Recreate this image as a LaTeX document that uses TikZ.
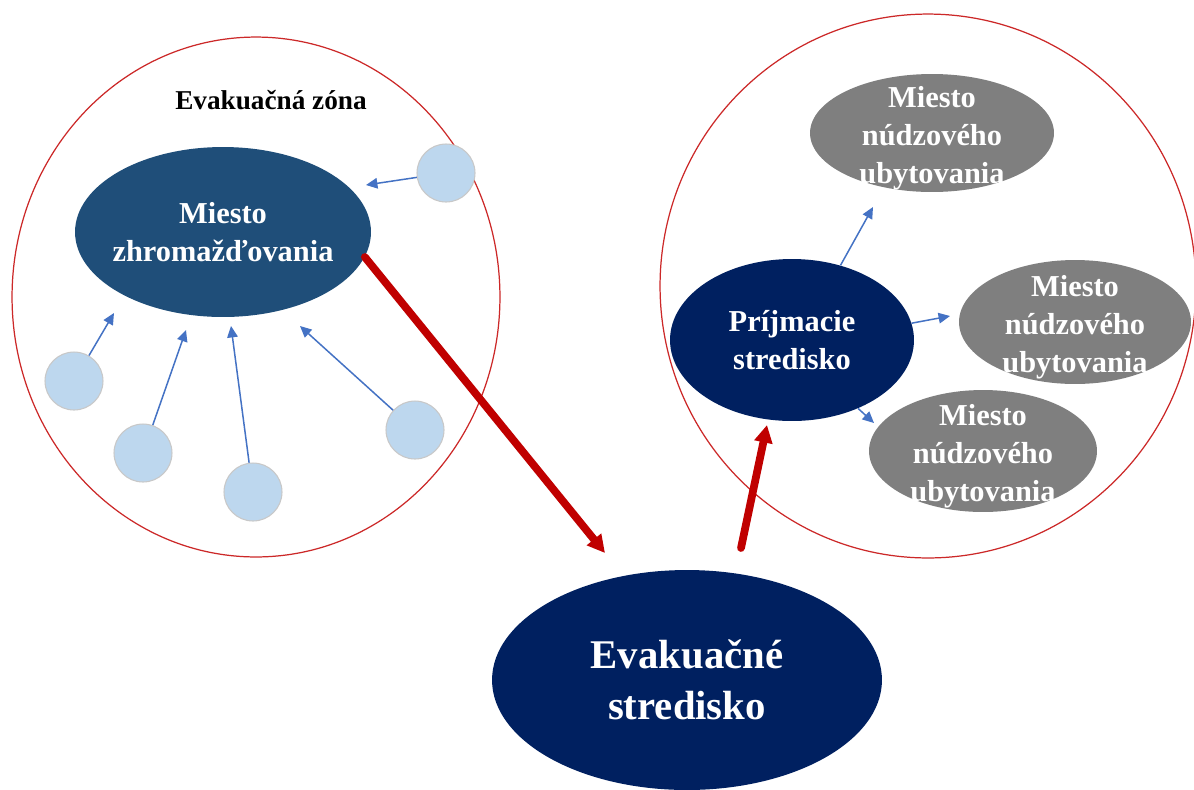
\documentclass[tikz,border=0pt]{standalone}
\usepackage{fontspec}
\setmainfont{Liberation Serif}
\usetikzlibrary{shapes.geometric,arrows.meta}
\definecolor{zonered}{RGB}{204,40,40}
\definecolor{arrowred}{RGB}{192,0,0}
\definecolor{linkblue}{RGB}{68,114,196}
\definecolor{dotfill}{RGB}{189,215,238}
\definecolor{dotedge}{RGB}{200,200,200}
\definecolor{steelnavy}{RGB}{31,78,121}
\definecolor{deepnavy}{RGB}{0,32,96}
\definecolor{shelter}{RGB}{127,127,127}
\begin{document}
\begin{tikzpicture}[x=0.02cm,y=-0.02cm,
  zonering/.style={ellipse,draw=zonered,line width=0.7pt,inner sep=0pt},
  blob/.style={ellipse,inner sep=0pt},
  smalldot/.style={circle,fill=dotfill,draw=dotedge,line width=0.6pt,minimum size=1.16cm,inner sep=0pt},
  lbl/.style={text=white,font=\bfseries\fontsize{17.3}{21.5}\selectfont,align=center,inner sep=0pt},
  thinarrow/.style={draw=linkblue,line width=0.85pt,-{Triangle[length=6.5pt,width=6pt]}},
  bigarrow/.style={draw=arrowred,line width=4.4pt,line cap=round,-{Triangle[length=10pt,width=10pt]}}]
\clip (0,0) rectangle (1194,789);
\fill[white] (0,0) rectangle (1194,789);

% the two zones
\node[zonering,minimum width=9.76cm,minimum height=10.4cm] (leftzone) at (256,297) {};
\node[zonering,minimum width=10.72cm,minimum height=10.88cm] (rightzone) at (928,286) {};

\node[font=\bfseries\fontsize{15.5}{18}\selectfont,inner sep=0pt] (zonetitle) at (271,100) {Evakuačná zóna};

% gathering point and the people coming to it
\node[blob,fill=steelnavy,minimum width=5.92cm,minimum height=3.4cm] (zh) at (223,232) {};
\node[lbl] (zhtext) at (zh.center) {Miesto\\zhromažďovania};

\node[smalldot] (c1) at (446,173) {};
\node[smalldot] (c2) at (74,381) {};
\node[smalldot] (c3) at (143,453) {};
\node[smalldot] (c4) at (253,492) {};
\node[smalldot] (c5) at (415,430) {};

\coordinate (t1) at (366,185);
\coordinate (t2) at (114,313);
\coordinate (t3) at (186,330);
\coordinate (t4) at (231,326);
\coordinate (t5) at (300,326);
\draw[thinarrow] (c1) -- (t1);
\draw[thinarrow] (c2) -- (t2);
\draw[thinarrow] (c3) -- (t3);
\draw[thinarrow] (c4) -- (t4);
\draw[thinarrow] (c5) -- (t5);

% evacuation centre
\node[blob,fill=deepnavy,minimum width=7.8cm,minimum height=4.4cm] (ev) at (687,680) {};
\node[lbl,font=\bfseries\fontsize{23.2}{29}\selectfont] (evtext) at (ev.center) {Evakuačné\\stredisko};

% reception centre and emergency shelters
\node[blob,fill=deepnavy,minimum width=4.88cm,minimum height=3.24cm] (pr) at (792,340) {};
\node[lbl] (prtext) at (pr.center) {Príjmacie\\stredisko};

\node[blob,fill=shelter,minimum width=4.88cm,minimum height=2.36cm] (g1) at (932,133) {};
\node[lbl,yshift=-0.1cm] (g1text) at (g1.center) {Miesto\\núdzového\\ubytovania};
\node[blob,fill=shelter,minimum width=4.64cm,minimum height=2.48cm] (g2) at (1075,322) {};
\node[lbl,yshift=-0.1cm] (g2text) at (g2.center) {Miesto\\núdzového\\ubytovania};
\node[blob,fill=shelter,minimum width=4.56cm,minimum height=2.44cm] (g3) at (983,451) {};
\node[lbl,yshift=-0.1cm] (g3text) at (g3.center) {Miesto\\núdzového\\ubytovania};

\coordinate (s1) at (873,207);
\coordinate (s2) at (950,316);
\coordinate (s3) at (874,423);
\draw[thinarrow] (pr.57) -- (s1);
\draw[thinarrow] (pr.8) -- (s2);
\draw[thinarrow] (pr.-46) -- (s3);

% transfers between the centres
\coordinate (evin) at (605,553);
\coordinate (evout) at (741,548);
\coordinate (prin) at (767,425);
\draw[bigarrow] (zh.-10) -- (evin);
\draw[bigarrow] (evout) -- (prin);
\end{tikzpicture}
\end{document}
